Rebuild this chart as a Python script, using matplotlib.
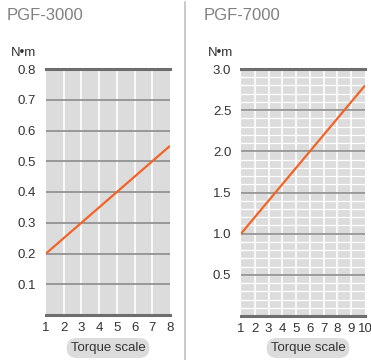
import matplotlib
matplotlib.use("Agg")
import matplotlib.pyplot as plt
import numpy as np

plt.rcParams['font.family'] = ['Liberation Sans', 'DejaVu Sans']

# data
titles = ["PGF-3000", "PGF-7000"]
scale_3000 = [1, 8]
torque_3000 = [0.2, 0.55]
scale_7000 = [1, 10]
torque_7000 = [1.0, 2.8]
yticks_3000 = [0.1, 0.2, 0.3, 0.4, 0.5, 0.6, 0.7, 0.8]
yticks_7000 = [0.5, 1.0, 1.5, 2.0, 2.5, 3.0]

W, H = 371, 360
fig = plt.figure(figsize=(W / 100, H / 100), dpi=100)

ORANGE = "#f26426"
BG = "#dcdcdc"
GRID = "#8c8c8c"
EDGE = "#6e6e6e"
TXT = "#333333"


def px(x0, x1, ytop, ybot):
    return [x0 / W, 1 - ybot / H, (x1 - x0) / W, (ybot - ytop) / H]


def panel(rect, xs, ys, xmax, ymax, yticks, minor, title, title_x, unit_x, box_x):
    ax = fig.add_axes(rect)
    ax.set_facecolor(BG)
    ax.set_xlim(1, xmax)
    ax.set_ylim(0, ymax)
    # white vertical lines at each scale step
    for xv in range(2, xmax):
        ax.axvline(xv, color="white", lw=1.2, zorder=1)
    if minor:
        for yv in np.arange(minor, ymax, minor):
            ax.axhline(yv, color="white", lw=0.9, zorder=1)
    for yv in yticks[:-1]:
        ax.axhline(yv, color=GRID, lw=1.2, zorder=2)
    ax.plot(xs, ys, color=ORANGE, lw=1.6, zorder=3, solid_capstyle="butt")
    for s in ["left", "right"]:
        ax.spines[s].set_visible(False)
    for s in ["top", "bottom"]:
        ax.spines[s].set_color(EDGE)
        ax.spines[s].set_linewidth(2.2)
    ax.set_yticks(yticks)
    ax.set_yticklabels([f"{v:.1f}" for v in yticks])
    ax.set_xticks(range(1, xmax + 1))
    ax.tick_params(length=0, labelsize=9.5, colors=TXT, pad=7)
    ax.tick_params(axis="x", pad=5)
    fig.text(title_x / W, 1 - 16 / H, title, fontsize=12, color="#808080",
             va="center", ha="left")
    fig.text(unit_x / W, 1 - 53 / H, "N\u2022m", fontsize=9.5, color=TXT,
             va="center", ha="center")
    fig.text(box_x / W, 1 - 348 / H, "Torque scale", fontsize=9.5, color=TXT,
             va="center", ha="center",
             bbox=dict(boxstyle="round,pad=0.3,rounding_size=0.75", fc=BG, ec="none"))
    return ax


panel(px(46, 170, 69, 315), scale_3000, torque_3000, 8, 0.8, yticks_3000, None,
      titles[0], 7, 23, 108)
panel(px(241, 365, 69, 316), scale_7000, torque_7000, 10, 3.0, yticks_7000, 0.1,
      titles[1], 204, 221, 308)

# separator between the two charts
fig.add_artist(plt.Line2D([184.5 / W, 184.5 / W], [0, 1 - 2 / H], color="#c0c0c0", lw=1.2))

fig.savefig("out.png", dpi=100)
